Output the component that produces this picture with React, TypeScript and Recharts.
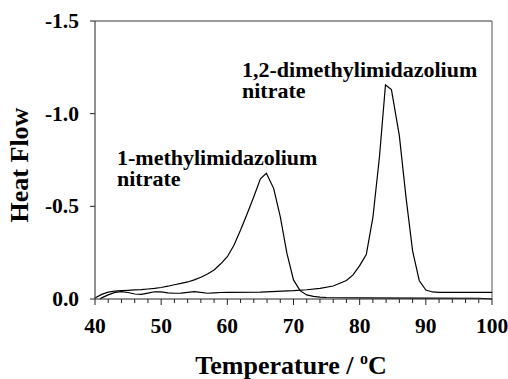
import { LineChart, Line, XAxis, YAxis, CartesianGrid } from "recharts";

// 1-methylimidazolium nitrate
const temps1 = [40, 41, 42, 43, 44, 45, 46, 47, 48, 49, 50, 51, 52, 53, 54, 55, 56, 57, 58, 59, 60, 61, 62, 63, 64, 65, 65.9, 67, 68, 69, 70, 71, 72, 73, 74, 75, 80, 90, 98, 100];
const flow1 = [-0.005, -0.025, -0.037, -0.043, -0.045, -0.047, -0.049, -0.051, -0.054, -0.057, -0.062, -0.069, -0.077, -0.084, -0.092, -0.103, -0.117, -0.135, -0.157, -0.19, -0.228, -0.29, -0.372, -0.46, -0.552, -0.648, -0.678, -0.597, -0.444, -0.247, -0.103, -0.045, -0.022, -0.014, -0.01, -0.008, -0.006, -0.005, -0.004, 0];

// 1,2-dimethylimidazolium nitrate
const temps2 = [40.8, 41, 42, 43, 44, 45, 46, 47, 48, 49, 50, 51, 52, 53, 54, 55, 56, 57, 58, 59, 60, 65, 70, 72, 74, 76, 77, 78, 79, 80, 81, 82, 83, 83.9, 84.8, 86, 87, 88, 89, 90, 91, 92, 100];
const flow2 = [0, -0.006, -0.022, -0.036, -0.04, -0.035, -0.027, -0.025, -0.032, -0.039, -0.038, -0.033, -0.031, -0.032, -0.036, -0.04, -0.036, -0.031, -0.033, -0.035, -0.036, -0.037, -0.045, -0.05, -0.057, -0.07, -0.085, -0.1, -0.13, -0.18, -0.24, -0.44, -0.77, -1.155, -1.13, -0.88, -0.55, -0.26, -0.1, -0.048, -0.038, -0.036, -0.036];

const xTicks = [40, 42, 44, 46, 48, 50, 52, 54, 56, 58, 60, 62, 64, 66, 68, 70, 72, 74, 76, 78, 80, 82, 84, 86, 88, 90, 92, 94, 96, 98, 100];
const yTicks = [-1.5, -1.0, -0.5, 0];

const series1 = temps1.map((t, i) => ({ t, v: flow1[i] }));
const series2 = temps2.map((t, i) => ({ t, v: flow2[i] }));

const FONT = "Liberation Serif";
const AXIS = "#222";
const FRAME = "#7a7a7a";

function XTick(props: any) {
  const { x, y, payload } = props;
  const major = payload.value % 10 === 0;
  return (
    <g>
      <line x1={x} y1={y} x2={x} y2={y + (major ? 6 : 4)} stroke={AXIS} strokeWidth={1} />
      {major && (
        <text x={x} y={y + 34} textAnchor="middle" fontFamily={FONT} fontWeight={700} fontSize={21.5} fill="#000">
          {payload.value}
        </text>
      )}
    </g>
  );
}

function YTick(props: any) {
  const { x, y, payload } = props;
  return (
    <g>
      <line x1={x - 5} y1={y} x2={x} y2={y} stroke={AXIS} strokeWidth={1} />
      <text x={x - 16} y={y + 7} textAnchor="end" fontFamily={FONT} fontWeight={700} fontSize={21.5} fill="#000">
        {Number(payload.value).toFixed(1)}
      </text>
    </g>
  );
}

export default function App() {
  return (
    <div style={{ position: "absolute", left: 0, top: 0, width: 508, height: 379, background: "#fff" }}>
      <LineChart width={508} height={379} margin={{ top: 21, right: 16, bottom: 0, left: 0 }}>
        <CartesianGrid horizontalValues={[-1.5]} verticalValues={[100]} stroke={FRAME} strokeWidth={1.3} />
        <XAxis
          type="number"
          dataKey="t"
          domain={[40, 100]}
          ticks={xTicks}
          interval={0}
          height={80}
          tickSize={0}
          tickMargin={0}
          tickLine={false}
          stroke={AXIS}
          tick={<XTick />}
        />
        <YAxis
          type="number"
          dataKey="v"
          domain={[-1.5, 0]}
          reversed
          ticks={yTicks}
          interval={0}
          width={95}
          tickSize={0}
          tickMargin={0}
          tickLine={false}
          stroke={AXIS}
          tick={<YTick />}
        />
        <Line data={series1} dataKey="v" type="linear" stroke="#000" strokeWidth={1.2} dot={false} isAnimationActive={false} />
        <Line data={series2} dataKey="v" type="linear" stroke="#000" strokeWidth={1.2} dot={false} isAnimationActive={false} />
      </LineChart>
      <svg width={508} height={379} style={{ position: "absolute", left: 0, top: 0, pointerEvents: "none" }}>
        <g fontFamily={FONT} fontWeight={700} fill="#000">
          <text x={242} y={77} fontSize={22}>1,2-dimethylimidazolium</text>
          <text x={242} y={98} fontSize={22}>nitrate</text>
          <text x={117} y={165} fontSize={22}>1-methylimidazolium</text>
          <text x={117} y={186} fontSize={22}>nitrate</text>
          <text x={291} y={374} fontSize={26} textAnchor="middle">
            Temperature / <tspan fontSize={16} dy={-10}>o</tspan>
            <tspan dy={10}>C</tspan>
          </text>
          <text transform="translate(28,165) rotate(-90)" fontSize={26} textAnchor="middle">Heat Flow</text>
        </g>
      </svg>
    </div>
  );
}
